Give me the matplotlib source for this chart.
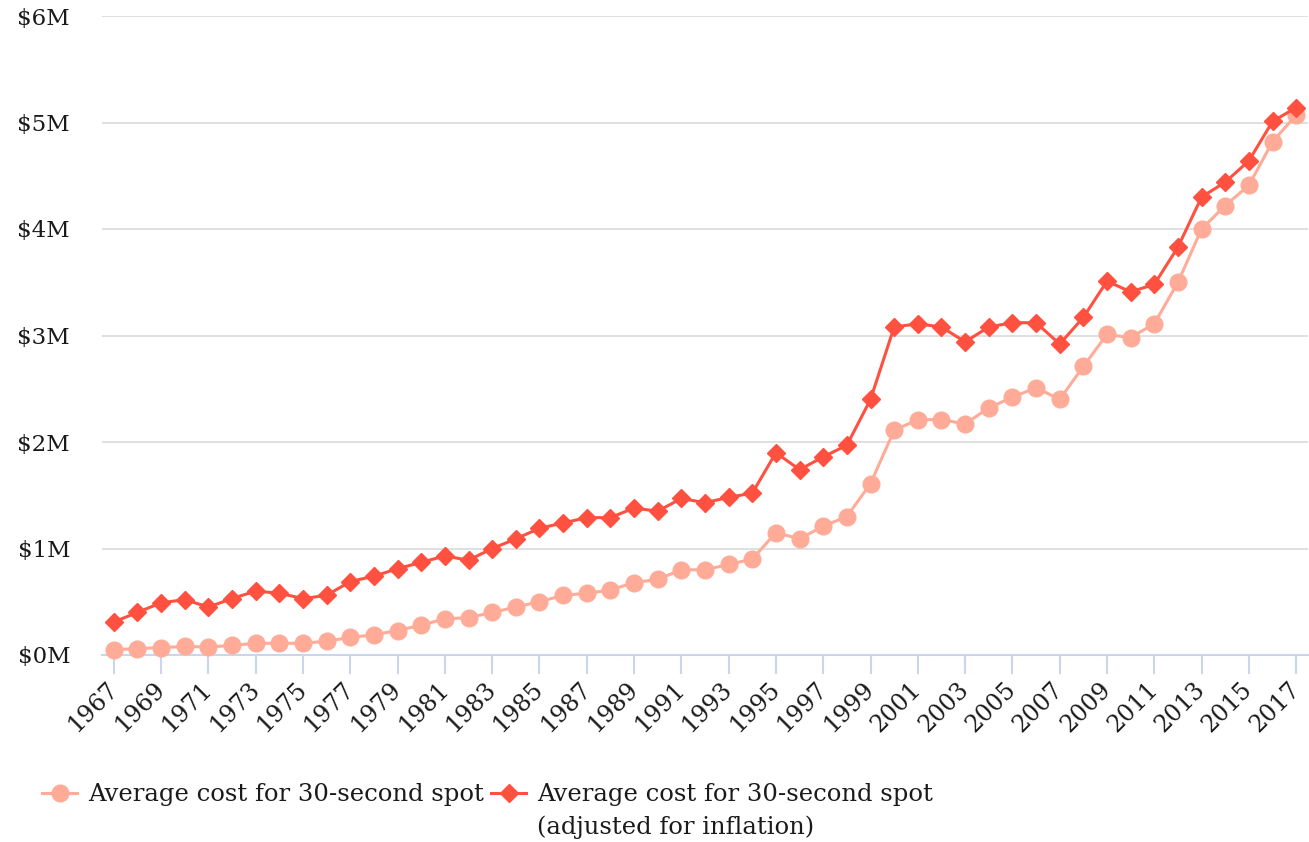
import matplotlib
matplotlib.use("Agg")
import matplotlib.pyplot as plt
from matplotlib.lines import Line2D

# years 1967..2017
years = list(range(1967, 2018))

# average cost of a 30-second spot, $M
cost = [0.05, 0.06, 0.07, 0.08, 0.075, 0.09, 0.11, 0.11, 0.11, 0.13,
        0.165, 0.19, 0.23, 0.28, 0.34, 0.35, 0.40, 0.45, 0.50, 0.56,
        0.58, 0.61, 0.68, 0.71, 0.80, 0.80, 0.85, 0.90, 1.15, 1.09,
        1.21, 1.30, 1.61, 2.11, 2.21, 2.21, 2.17, 2.32, 2.42, 2.51,
        2.40, 2.71, 3.01, 2.98, 3.11, 3.50, 4.00, 4.22, 4.41, 4.82,
        5.07]

# same, adjusted for inflation, $M
cost_adj = [0.31, 0.40, 0.49, 0.52, 0.45, 0.53, 0.60, 0.58, 0.53, 0.56,
            0.69, 0.74, 0.81, 0.87, 0.93, 0.89, 1.00, 1.09, 1.19, 1.24,
            1.29, 1.29, 1.38, 1.35, 1.47, 1.43, 1.48, 1.52, 1.90, 1.74,
            1.86, 1.97, 2.40, 3.08, 3.11, 3.08, 2.94, 3.08, 3.12, 3.12,
            2.92, 3.17, 3.51, 3.41, 3.48, 3.83, 4.30, 4.44, 4.64, 5.01,
            5.14]

y_ticks = [0, 1, 2, 3, 4, 5, 6]
y_labels = ["$%dM" % v for v in y_ticks]
x_ticks = years[::2]

light = "#ffab98"
red = "#ff5040"
font = "DejaVu Serif"
ink = "#1a1a1a"

fig = plt.figure(figsize=(13.09, 8.42), dpi=100)
ax = fig.add_axes([102 / 1309, 1 - 655 / 842, 1206 / 1309, 639 / 842])

ax.plot(years, cost, color=light, lw=2.2, marker="o", ms=12,
        clip_on=False, zorder=3)
ax.plot(years, cost_adj, color=red, lw=2.2, marker="D", ms=9.5,
        clip_on=False, zorder=4)

ax.set_xlim(1966.5, 2017.5)
ax.set_ylim(0, 6)
ax.set_yticks(y_ticks)
ax.set_yticklabels(y_labels, fontfamily=font, fontsize=16.5, color=ink)
ax.set_xticks(x_ticks)
ax.set_xticklabels([str(y) for y in x_ticks], rotation=45, ha="right",
                   va="center", rotation_mode="anchor", fontfamily=font,
                   fontsize=17, color=ink)

ax.grid(axis="y", color="#dddddd", lw=1.3)
ax.set_axisbelow(True)
for s in ["top", "right", "left"]:
    ax.spines[s].set_visible(False)
ax.spines["bottom"].set_color("#ccd6eb")
ax.spines["bottom"].set_linewidth(1.5)
ax.tick_params(axis="y", length=0, pad=23)
ax.tick_params(axis="x", length=14, width=1.5, color="#ccd6eb", pad=8)

handles = [Line2D([], [], color=light, lw=2.2, marker="o", ms=12),
           Line2D([], [], color=red, lw=2.2, marker="D", ms=9.5)]
labels = ["Average cost for 30-second spot",
          "Average cost for 30-second spot"]
leg = fig.legend(handles, labels, loc="center left",
                 bbox_to_anchor=(0.032, 1 - 795 / 842),
                 ncol=2, frameon=False,
                 prop={"family": font, "size": 17.5},
                 handlelength=1.45, handletextpad=0.45, columnspacing=0.3,
                 borderaxespad=0, borderpad=0)
for t in leg.get_texts():
    t.set_color(ink)

# second line of the inflation label, under its legend entry
fig.canvas.draw()
bb = leg.get_texts()[1].get_window_extent()
fig.text(bb.x0 / fig.bbox.width, 1 - 827 / 842, "(adjusted for inflation)",
         fontfamily=font, fontsize=17.5, color=ink, va="center", ha="left")

fig.savefig("out.png", dpi=100)
